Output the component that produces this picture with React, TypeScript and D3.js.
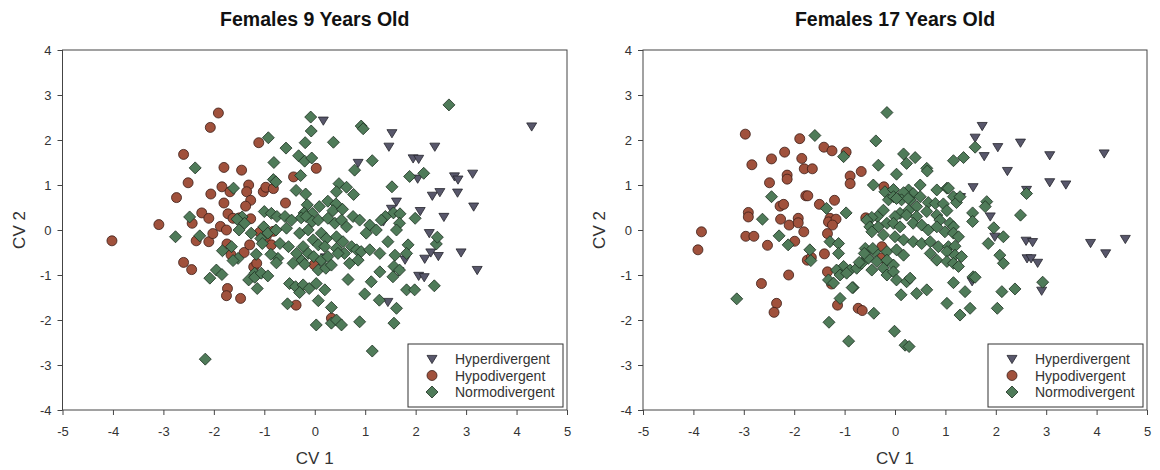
import React, { useEffect, useRef } from 'react';
import * as d3 from 'd3';

type Pt = [number, number];

// axis ticks and labels
const xTicks = [-5, -4, -3, -2, -1, 0, 1, 2, 3, 4, 5];
const yTicks = [-4, -3, -2, -1, 0, 1, 2, 3, 4];
const groupNames = ['Hyperdivergent', 'Hypodivergent', 'Normodivergent'];
const panelTitles = ['Females 9 Years Old', 'Females 17 Years Old'];

// Females 9 years: CV1, CV2 scores
const f9Hyper: Pt[] = [
  [0.17, 2.43], [4.30, 2.30], [1.53, 2.15], [1.47, 1.85], [2.38, 1.85], [1.95, 1.59], [2.06, 1.58],
  [0.86, 1.49], [2.77, 1.19], [2.84, 1.12], [3.13, 1.25], [2.04, 1.14], [2.33, 0.76], [2.48, 0.84],
  [2.83, 0.83], [3.15, 0.52], [1.62, 0.63], [1.52, 0.47], [2.09, 0.42], [2.56, 0.29], [1.36, 0.19],
  [2.27, -0.07], [2.30, -0.50], [2.45, -0.58], [2.18, -0.64], [2.90, -0.50], [1.79, -0.66],
  [3.22, -0.89], [2.06, -1.02], [2.17, -1.05], [1.67, -0.92], [0.21, -0.61], [1.45, -1.60],
];

const f9Hypo: Pt[] = [
  [-1.91, 2.60], [-2.07, 2.28], [-2.60, 1.68], [-1.11, 1.94], [-2.51, 1.05], [-1.80, 1.39], [-1.45, 1.33],
  [0.03, 1.37], [-0.42, 1.18], [-2.74, 0.72], [-2.06, 0.80], [-1.84, 0.96], [-1.68, 0.85], [-1.31, 1.00],
  [-1.35, 0.85], [-1.02, 0.85], [-0.97, 0.95], [-0.82, 0.92], [-1.80, 0.60], [-1.27, 0.66], [-1.37, 0.53],
  [-0.58, 0.60], [-2.24, 0.38], [-2.43, 0.15], [-3.09, 0.12], [-2.10, 0.26], [-1.72, 0.36], [-1.62, 0.26],
  [-1.49, 0.27], [-1.27, 0.25], [-1.87, 0.08], [-4.02, -0.24], [-2.35, -0.24], [-2.10, -0.26],
  [-2.02, -0.08], [-1.75, 0.00], [-1.74, -0.31], [-1.66, -0.55], [-2.60, -0.72], [-2.44, -0.88],
  [-1.40, -0.50], [-1.29, -0.33], [-1.21, -0.82], [-1.15, -0.74], [-0.86, -0.33], [-1.73, -1.30],
  [-1.75, -1.46], [-1.47, -1.52], [-0.37, -1.67], [-1.09, -0.05], [-0.96, -0.14], [-0.82, -0.03],
  [-0.01, -0.77], [0.33, -1.96],
];

const f9Normo: Pt[] = [
  [2.66, 2.78], [-0.08, 2.51], [-0.07, 2.20], [0.92, 2.31], [0.96, 2.25], [-0.92, 2.05], [-0.19, 1.94],
  [0.37, 1.95], [-0.57, 1.82], [-0.32, 1.65], [-0.20, 1.53], [-0.06, 1.60], [-0.81, 1.50], [1.14, 1.54],
  [0.79, 1.33], [-2.37, 1.38], [-0.28, 1.21], [-0.82, 1.12], [-0.77, 1.07], [1.88, 1.19], [2.16, 1.26],
  [-1.61, 0.93], [0.48, 1.03], [0.63, 0.95], [0.43, 0.85], [0.77, 0.79], [-0.37, 0.88], [-0.18, 0.80],
  [1.53, 0.96], [-0.15, 0.56], [0.09, 0.52], [0.26, 0.64], [0.42, 0.58], [0.36, 0.43], [0.55, 0.46],
  [1.56, 0.38], [1.69, 0.36], [1.40, 0.30], [1.99, 0.26], [-0.21, 0.38], [-0.27, 0.27], [-0.05, 0.37],
  [-2.48, 0.29], [-1.44, 0.29], [-2.76, -0.15], [-2.28, -0.13],
  [-1.00, 0.41], [-0.86, 0.37], [-0.75, 0.30], [-0.59, 0.30], [-0.46, 0.22], [-0.17, 0.30], [-0.05, 0.19],
  [0.07, 0.22], [0.26, 0.26], [0.40, 0.15], [0.53, 0.22], [0.63, 0.07], [0.76, 0.30], [0.89, 0.22],
  [1.09, 0.11], [1.32, 0.22], [1.68, 0.15], [-1.54, 0.24], [-1.39, 0.15], [-1.50, 0.00], [-1.01, 0.07],
  [-0.93, -0.07], [-0.77, 0.00], [-0.56, 0.04], [-1.26, -0.07], [-1.07, -0.19], [-1.04, -0.30],
  [-0.30, -0.07], [-0.13, 0.00], [-0.03, -0.22], [0.13, -0.07], [0.23, -0.19], [0.43, -0.15],
  [0.56, -0.26], [0.73, -0.37], [0.83, -0.44], [1.02, -0.07], [1.22, 0.00], [1.45, -0.26], [1.62, 0.00],
  [1.85, -0.33], [2.41, -0.31], [2.43, -0.16], [-1.65, -0.37], [-0.69, -0.30], [-0.52, -0.37],
  [-0.23, -0.37], [0.07, -0.33], [0.20, -0.37], [0.43, -0.41], [0.59, -0.52], [0.92, -0.48],
  [1.09, -0.44], [-1.52, -0.63], [-0.73, -0.63], [-0.36, -0.52], [-0.26, -0.68], [-0.13, -0.52],
  [-0.02, -0.59], [0.13, -0.67], [0.26, -0.59], [0.46, -0.52], [0.69, -0.74], [0.86, -0.67],
  [1.29, -0.52], [1.59, -0.56], [1.82, -0.52], [-1.19, -0.96], [-0.43, -0.74], [0.07, -0.89],
  [0.22, -0.85], [0.33, -0.78], [1.29, -0.93], [1.57, -0.81], [1.55, -1.04], [1.68, -0.89],
  [2.37, -1.24], [-0.50, -1.19], [-0.38, -1.26], [-0.23, -1.22], [-0.11, -1.30], [0.03, -1.19],
  [0.20, -1.33], [0.66, -1.10], [1.12, -1.15], [0.99, -1.42], [1.28, -1.56], [1.62, -1.74],
  [1.82, -1.33], [1.98, -1.33], [0.07, -1.57], [0.33, -1.72], [0.33, -2.07], [0.43, -2.00],
  [0.53, -2.11], [0.89, -2.04], [1.57, -2.07], [1.14, -2.69],
  [-1.83, -0.46], [-1.62, -0.68], [-2.08, -1.07], [-1.95, -0.89], [-1.84, -0.99], [-1.31, -1.11],
  [-1.19, -1.05], [-1.06, -0.96], [-0.93, -1.02], [-1.14, -1.30], [-1.16, -0.54], [-0.87, -0.54],
  [-0.76, -0.73], [-0.30, -1.39], [-0.54, -1.64], [-0.20, -0.76], [0.03, -2.11], [-2.17, -2.87],
];

// Females 17 years: CV1, CV2 scores
const f17Hyper: Pt[] = [
  [1.73, 2.31], [1.59, 2.05], [2.04, 1.84], [2.49, 1.94], [1.77, 1.64], [3.07, 1.66], [4.15, 1.70],
  [2.23, 1.31], [3.07, 1.06], [3.39, 1.01], [1.55, 0.95], [2.61, 0.89], [1.30, 0.73], [1.89, 0.30],
  [1.98, -0.15], [2.60, -0.24], [2.73, -0.27], [2.62, -0.63], [2.70, -0.63], [2.83, -0.73],
  [3.88, -0.29], [4.18, -0.52], [4.57, -0.20], [2.91, -1.35], [1.53, -1.14],
];

const f17Hypo: Pt[] = [
  [-2.97, 2.13], [-1.89, 2.03], [-1.41, 1.84], [-1.25, 1.76], [-0.97, 1.73], [-2.19, 1.73], [-2.45, 1.58],
  [-1.85, 1.59], [-2.84, 1.45], [-1.80, 1.36], [-1.64, 1.36], [-0.67, 1.30], [-2.14, 1.22], [-2.14, 1.13],
  [-0.89, 1.20], [-0.89, 1.03], [-2.49, 1.05], [-0.22, 0.96], [-1.77, 0.76], [-1.73, 0.76], [-1.50, 0.57],
  [-1.20, 0.66], [-2.28, 0.53], [-2.21, 0.57], [-2.91, 0.39], [-2.91, 0.29], [-1.29, 0.26], [-1.32, 0.18],
  [-1.17, 0.24], [-1.24, 0.11], [-2.27, 0.24], [-2.10, 0.11], [-1.92, 0.26], [-1.92, 0.16], [-0.58, 0.27],
  [-3.84, -0.04], [-3.91, -0.44], [-2.96, -0.14], [-2.80, -0.14], [-2.53, -0.34], [-1.99, -0.25],
  [-1.81, -0.04], [-1.34, -0.08], [-1.40, -0.53], [-1.74, -0.67], [-1.66, -0.61], [-0.26, -0.37],
  [-0.26, -0.62], [-2.11, -1.00], [-2.65, -1.19], [-1.26, -1.20], [-1.34, -0.93], [-2.35, -1.63],
  [-2.40, -1.83], [-1.14, -1.67], [-0.73, -1.74], [-0.65, -1.79],
];

const f17Normo: Pt[] = [
  [-0.16, 2.61], [-1.59, 2.10], [-0.38, 1.98], [-0.33, 1.44], [0.17, 1.69], [0.40, 1.61], [0.23, 1.48],
  [0.63, 1.37], [0.64, 1.31], [1.16, 1.54], [1.36, 1.61], [1.59, 1.84], [-1.02, 1.63], [0.03, 1.24],
  [-0.43, 1.00], [-0.20, 0.85], [-0.03, 0.90], [0.27, 0.89], [0.36, 0.81], [0.17, 0.83], [0.50, 1.00],
  [0.83, 0.89], [1.03, 0.93], [1.16, 0.74], [-0.13, 0.67], [-0.03, 0.74], [0.13, 0.67], [0.30, 0.67],
  [0.50, 0.74], [0.66, 0.61], [0.80, 0.59], [0.96, 0.58], [1.22, 0.61], [0.43, 0.52], [0.27, 0.44],
  [0.10, 0.37], [-0.23, 0.44], [-0.35, 0.30], [-0.46, 0.28], [0.00, 0.30], [0.23, 0.33], [0.43, 0.30],
  [0.63, 0.41], [0.83, 0.33], [0.89, 0.22], [1.09, 0.15], [1.16, 0.07], [-0.56, 0.22], [-0.50, 0.07],
  [-0.33, 0.07], [-0.16, 0.15], [-0.03, 0.15], [0.10, 0.07], [0.36, 0.15], [0.53, 0.11], [0.66, 0.00],
  [0.83, 0.07], [0.99, -0.04], [1.16, -0.07], [1.26, -0.15], [-0.46, -0.04], [-0.23, -0.11],
  [0.00, -0.15], [0.17, -0.22], [0.36, -0.26], [0.53, -0.30], [0.70, -0.26], [0.86, -0.37],
  [1.06, -0.37], [1.19, -0.36], [-0.59, -0.41], [-0.40, -0.48], [-0.16, -0.48], [0.03, -0.44],
  [-0.53, -0.63], [-0.36, -0.70], [-0.16, -0.67], [-0.03, -0.78], [0.17, -0.56], [0.70, -0.52],
  [0.83, -0.67], [1.03, -0.48], [1.19, -0.56], [1.32, -0.59], [1.03, -0.70], [1.16, -0.74],
  [1.26, -0.81], [-1.02, -0.81], [-0.89, -0.89], [-0.76, -0.85], [-0.66, -0.74], [-1.16, -0.89],
  [-1.09, -1.00], [-0.96, -0.96], [-0.46, -0.89], [-0.23, -0.85], [-0.16, -1.00], [-0.03, -0.93],
  [0.03, -1.11], [0.23, -1.15], [0.30, -1.07], [0.63, -1.33], [0.43, -1.41], [0.12, -1.44],
  [1.03, -1.63], [1.29, -1.89], [1.49, -1.74], [1.16, -1.17], [1.39, -1.37], [1.55, -1.04],
  [-1.32, -1.11], [-1.22, -1.18], [-0.83, -1.28], [-1.09, -1.52], [-1.31, -2.05], [-0.42, -1.85],
  [-0.01, -2.25], [0.20, -2.56], [0.28, -2.59], [-0.92, -2.47], [-3.14, -1.53],
  [2.61, 0.81], [2.49, 0.33], [1.82, 0.63], [1.79, 0.52], [1.54, 0.38], [1.54, 0.19], [1.96, 0.05],
  [2.15, -0.15], [1.85, -0.30], [2.08, -0.56], [2.15, -0.74], [2.93, -1.16], [2.38, -1.31],
  [2.12, -1.37], [2.03, -1.74], [1.59, -1.05], [-0.97, 0.38], [-1.36, 0.48], [-1.69, -0.44],
  [-1.67, -0.68], [-2.45, 0.74], [-2.63, 0.24], [-2.30, -0.13], [-2.12, -0.33], [-1.29, -0.26],
  [-1.12, -0.30], [-1.12, -0.52], [-0.44, -0.41], [-0.61, -0.52], [-0.71, -0.72], [-0.85, -1.28],
  [0.26, 0.70], [0.03, 0.70], [1.06, 0.93], [1.29, 0.74], [1.03, 0.43],
];

const W = 1160;
const H = 470;
const FONT = "'Liberation Sans', Arial, Helvetica, sans-serif";

const markerStyle = [
  { path: 'M-5,-3.6L5,-3.6L0,4.6Z', fill: '#58576b', stroke: '#25242c' },
  { path: null, fill: '#a0513c', stroke: '#3b1d16' },
  { path: 'M0,-6L6,0L0,6L-6,0Z', fill: '#4f7b59', stroke: '#1c2e20' },
];

const panelBoxes = [
  { left: 62.5, right: 567 },
  { left: 643, right: 1147 },
];
const plotTop = 50;
const plotBottom = 410;

function drawMarker(g: any, k: number, x: number, y: number) {
  const s = markerStyle[k];
  if (s.path) {
    g.append('path')
      .attr('d', s.path)
      .attr('transform', `translate(${x},${y})`)
      .attr('fill', s.fill)
      .attr('stroke', s.stroke)
      .attr('stroke-width', 0.8);
  } else {
    g.append('circle')
      .attr('cx', x).attr('cy', y).attr('r', 5)
      .attr('fill', s.fill)
      .attr('stroke', s.stroke)
      .attr('stroke-width', 0.8);
  }
}

const App = () => {
  const svgRef = useRef<SVGSVGElement>(null);

  useEffect(() => {
    const svg = d3.select(svgRef.current);
    svg.selectAll('*').remove();

    const datasets = [
      [f9Hyper, f9Hypo, f9Normo],
      [f17Hyper, f17Hypo, f17Normo],
    ];

    datasets.forEach((groups, p) => {
      const box = panelBoxes[p];
      const x = d3.scaleLinear().domain([-5, 5]).range([box.left, box.right]);
      const y = d3.scaleLinear().domain([-4, 4]).range([plotBottom, plotTop]);
      const g = svg.append('g');
      const cx = (box.left + box.right) / 2;

      // title
      g.append('text')
        .attr('x', cx).attr('y', 26)
        .attr('text-anchor', 'middle')
        .style('font-family', FONT)
        .style('font-size', '19.5px')
        .style('font-weight', 'bold')
        .attr('fill', '#111')
        .text(panelTitles[p]);

      // axes (plain hyphen for negatives, like the original)
      const fmt = (d: any) => String(d);
      const xAxis = d3.axisBottom(x).tickValues(xTicks).tickFormat(fmt)
        .tickSize(5).tickSizeOuter(0).tickPadding(12);
      const yAxis = d3.axisLeft(y).tickValues(yTicks).tickFormat(fmt)
        .tickSize(5).tickSizeOuter(0).tickPadding(6);
      const gx = g.append('g').attr('transform', `translate(0,${plotBottom})`).call(xAxis);
      const gy = g.append('g').attr('transform', `translate(${box.left},0)`).call(yAxis);
      [gx, gy].forEach(a => {
        a.select('.domain').remove();
        a.selectAll('line').attr('stroke', '#444');
        a.selectAll('text')
          .style('font-family', FONT)
          .style('font-size', '13px')
          .attr('fill', '#333');
      });

      // frame
      g.append('rect')
        .attr('x', box.left).attr('y', plotTop)
        .attr('width', box.right - box.left).attr('height', plotBottom - plotTop)
        .attr('fill', 'none').attr('stroke', '#444').attr('stroke-width', 1);

      // axis titles
      g.append('text')
        .attr('x', cx).attr('y', 464)
        .attr('text-anchor', 'middle')
        .style('font-family', FONT).style('font-size', '17px')
        .attr('fill', '#333')
        .text('CV 1');
      const ytx = box.left - 38;
      g.append('text')
        .attr('transform', `translate(${ytx},${y(0)}) rotate(-90)`)
        .attr('text-anchor', 'middle')
        .style('font-family', FONT).style('font-size', '17px')
        .attr('fill', '#333')
        .text('CV 2');

      // points: hyper, hypo, then normo on top
      const pts = g.append('g');
      groups.forEach((data, k) => {
        data.forEach(d => drawMarker(pts, k, x(d[0]), y(d[1])));
      });

      // legend
      const lx = box.right - 159;
      const ly = plotBottom - 66;
      g.append('rect')
        .attr('x', lx).attr('y', ly).attr('width', 155).attr('height', 63)
        .attr('fill', '#fff').attr('stroke', '#333').attr('stroke-width', 1);
      groupNames.forEach((name, k) => {
        const ry = ly + 15 + k * 16.5;
        drawMarker(g, k, lx + 24, ry);
        g.append('text')
          .attr('x', lx + 47).attr('y', ry + 5)
          .style('font-family', FONT).style('font-size', '14px')
          .attr('fill', '#333')
          .text(name);
      });
    });
  }, []);

  return (
    <svg
      ref={svgRef}
      width={W}
      height={H}
      style={{ position: 'absolute', left: 0, top: 0, background: '#fff' }}
    />
  );
};

export default App;
